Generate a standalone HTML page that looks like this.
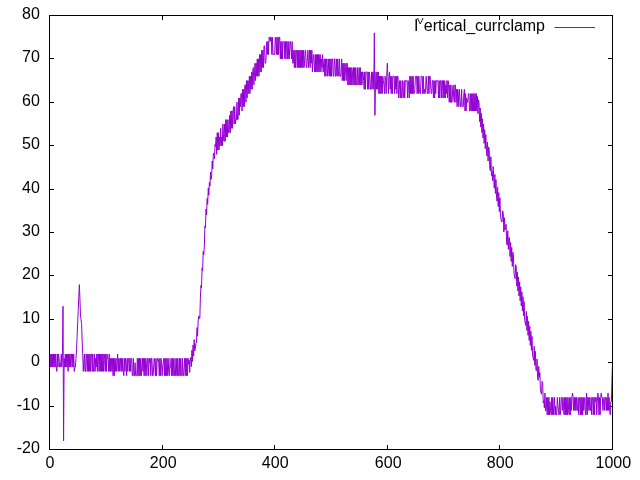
<!DOCTYPE html>
<html><head><meta charset="utf-8"><title>plot</title>
<style>
html,body{margin:0;padding:0;background:#fff;}
svg{display:block;}
text{font-family:"Liberation Sans",Arial,sans-serif;font-size:16px;fill:#000;}
</style></head><body>
<svg width="640" height="480" viewBox="0 0 640 480">
<rect width="640" height="480" fill="#fff"/>
<path d="M49.5 15.5h4.5M612.5 15.5h-4.5M49.5 58.5h4.5M612.5 58.5h-4.5M49.5 102.5h4.5M612.5 102.5h-4.5M49.5 145.5h4.5M612.5 145.5h-4.5M49.5 189.5h4.5M612.5 189.5h-4.5M49.5 232.5h4.5M612.5 232.5h-4.5M49.5 275.5h4.5M612.5 275.5h-4.5M49.5 319.5h4.5M612.5 319.5h-4.5M49.5 362.5h4.5M612.5 362.5h-4.5M49.5 406.5h4.5M612.5 406.5h-4.5M49.5 449.5h4.5M612.5 449.5h-4.5M49.5 449.5v-4.5M49.5 15.5v4.5M162.5 449.5v-4.5M162.5 15.5v4.5M274.5 449.5v-4.5M274.5 15.5v4.5M387.5 449.5v-4.5M387.5 15.5v4.5M499.5 449.5v-4.5M499.5 15.5v4.5M612.5 449.5v-4.5M612.5 15.5v4.5" stroke="#000" stroke-width="1" fill="none"/>
<text x="39.9" y="18.8" text-anchor="end">80</text>
<text x="39.9" y="61.8" text-anchor="end">70</text>
<text x="39.9" y="105.8" text-anchor="end">60</text>
<text x="39.9" y="148.8" text-anchor="end">50</text>
<text x="39.9" y="192.8" text-anchor="end">40</text>
<text x="39.9" y="235.8" text-anchor="end">30</text>
<text x="39.9" y="278.8" text-anchor="end">20</text>
<text x="39.9" y="322.8" text-anchor="end">10</text>
<text x="39.9" y="365.8" text-anchor="end">0</text>
<text x="39.9" y="409.8" text-anchor="end">-10</text>
<text x="39.9" y="452.8" text-anchor="end">-20</text>
<text x="49.9" y="468" text-anchor="middle">0</text>
<text x="163.2" y="468" text-anchor="middle">200</text>
<text x="275.2" y="468" text-anchor="middle">400</text>
<text x="388.2" y="468" text-anchor="middle">600</text>
<text x="500.2" y="468" text-anchor="middle">800</text>
<text x="613.3" y="468" text-anchor="middle">1000</text>
<text x="414" y="30.8">I</text><text x="417" y="24.4" style="font-size:9.8px">V</text><text x="423.8" y="30.8" style="letter-spacing:-0.04px">ertical_currclamp</text>
<path d="M554.5 27.5H595" stroke="#9400d3" stroke-width="1" fill="none"/>
<polyline points="49.50,367.04 50.06,354.02 50.63,367.04 51.19,354.02 51.75,367.04 52.31,354.02 52.88,367.04 53.44,354.02 54.00,367.04 54.57,354.02 55.13,367.04 55.69,354.02 56.26,367.04 56.82,371.38 57.38,354.02 57.95,367.04 58.51,354.02 59.07,358.36 59.63,367.04 60.20,367.04 60.76,362.70 61.32,354.02 61.89,367.04 62.45,354.02 63.01,306.28 63.58,440.82 64.14,358.36 64.70,367.04 65.26,354.02 65.83,367.04 66.39,354.02 66.95,367.04 67.52,354.02 68.08,371.38 68.64,354.02 69.20,367.04 69.77,354.02 70.33,367.04 70.89,354.02 71.46,354.02 72.02,367.04 72.58,354.02 73.15,367.04 73.71,354.02 74.27,371.38 74.84,367.04 75.40,367.04 75.96,358.36 76.52,349.68 77.09,336.66 77.65,323.64 78.21,310.62 78.78,297.60 79.34,284.58 79.90,297.60 80.47,314.96 81.03,319.30 81.59,323.64 82.15,341.00 82.72,354.02 83.28,371.38 83.84,362.70 84.41,354.02 84.97,371.38 85.53,371.38 86.09,354.02 86.66,358.36 87.22,371.38 87.78,354.02 88.35,371.38 88.91,354.02 89.47,371.38 90.04,354.02 90.60,371.38 91.16,354.02 91.72,354.02 92.29,371.38 92.85,354.02 93.41,371.38 93.98,371.38 94.54,354.02 95.10,371.38 95.67,358.36 96.23,367.04 96.79,354.02 97.35,371.38 97.92,354.02 98.48,354.02 99.04,371.38 99.61,354.02 100.17,371.38 100.73,354.02 101.30,371.38 101.86,354.02 102.42,371.38 102.98,354.02 103.55,371.38 104.11,354.02 104.67,358.36 105.24,371.38 105.80,354.02 106.36,371.38 106.93,354.02 107.49,358.36 108.05,358.36 108.62,371.38 109.18,354.02 109.74,371.38 110.30,358.36 110.87,371.38 111.43,358.36 111.99,371.38 112.56,358.36 113.12,375.72 113.68,358.36 114.25,375.72 114.81,358.36 115.37,371.38 115.93,358.36 116.50,371.38 117.06,362.70 117.62,354.02 118.19,371.38 118.75,358.36 119.31,371.38 119.88,358.36 120.44,358.36 121.00,371.38 121.56,358.36 122.13,371.38 122.69,358.36 123.25,371.38 123.82,375.72 124.38,358.36 124.94,371.38 125.50,358.36 126.07,362.70 126.63,375.72 127.19,358.36 127.76,371.38 128.32,358.36 128.88,358.36 129.45,371.38 130.01,358.36 130.57,371.38 131.13,358.36 131.70,358.36 132.26,375.72 132.82,375.72 133.39,358.36 133.95,375.72 134.51,375.72 135.08,362.70 135.64,375.72 136.20,375.72 136.76,375.72 137.33,358.36 137.89,375.72 138.45,358.36 139.02,375.72 139.58,358.36 140.14,375.72 140.71,358.36 141.27,375.72 141.83,367.04 142.39,358.36 142.96,371.38 143.52,358.36 144.08,375.72 144.65,358.36 145.21,375.72 145.77,358.36 146.34,362.70 146.90,375.72 147.46,358.36 148.03,358.36 148.59,375.72 149.15,358.36 149.71,362.70 150.28,358.36 150.84,375.72 151.40,358.36 151.97,358.36 152.53,375.72 153.09,375.72 153.66,367.04 154.22,358.36 154.78,362.70 155.34,375.72 155.91,358.36 156.47,375.72 157.03,362.70 157.60,358.36 158.16,358.36 158.72,362.70 159.28,375.72 159.85,358.36 160.41,375.72 160.97,358.36 161.54,362.70 162.10,375.72 162.66,367.04 163.23,362.70 163.79,358.36 164.35,375.72 164.92,358.36 165.48,375.72 166.04,358.36 166.60,375.72 167.17,358.36 167.73,375.72 168.29,371.38 168.86,358.36 169.42,375.72 169.98,367.04 170.55,367.04 171.11,358.36 171.67,375.72 172.23,358.36 172.80,375.72 173.36,358.36 173.92,375.72 174.49,375.72 175.05,358.36 175.61,375.72 176.18,375.72 176.74,358.36 177.30,375.72 177.86,358.36 178.43,375.72 178.99,375.72 179.55,358.36 180.12,375.72 180.68,358.36 181.24,375.72 181.81,375.72 182.37,358.36 182.93,375.72 183.49,375.72 184.06,367.04 184.62,358.36 185.18,375.72 185.75,358.36 186.31,375.72 186.87,358.36 187.44,375.72 188.00,358.36 188.56,364.27 189.12,360.18 189.69,372.54 190.25,357.93 190.81,357.54 191.38,366.61 191.94,350.11 192.50,361.40 193.06,344.91 193.63,356.14 194.19,339.59 194.75,350.82 195.32,348.16 195.88,343.36 196.44,342.84 197.01,327.60 197.57,336.23 198.13,320.86 198.69,316.04 199.26,318.39 199.82,318.43 200.38,298.19 200.95,285.45 201.51,288.05 202.07,268.09 202.64,270.69 203.20,251.45 203.76,254.78 204.32,246.82 204.89,225.99 205.45,227.73 206.01,209.02 206.58,215.00 207.14,198.41 207.70,204.39 208.27,187.80 208.83,195.14 209.39,182.30 209.96,186.06 210.52,172.02 211.08,179.35 211.64,175.69 212.21,161.01 212.77,168.90 213.33,154.22 213.90,152.87 214.46,158.72 215.02,144.54 215.59,146.49 216.15,137.02 216.71,154.38 217.27,132.68 217.84,150.04 218.40,132.68 218.96,150.04 219.53,137.02 220.09,145.70 220.65,128.34 221.22,145.70 221.78,137.02 222.34,145.70 222.90,124.00 223.47,137.02 224.03,141.36 224.59,124.00 225.16,141.36 225.72,119.66 226.28,137.02 226.84,119.66 227.41,137.02 227.97,119.66 228.53,132.68 229.10,132.68 229.66,115.32 230.22,132.68 230.79,110.98 231.35,128.34 231.91,110.98 232.47,128.34 233.04,110.98 233.60,106.64 234.16,124.00 234.73,106.64 235.29,124.00 235.85,119.66 236.42,119.66 236.98,102.30 237.54,119.66 238.10,119.66 238.67,97.96 239.23,115.32 239.79,97.96 240.36,106.64 240.92,93.62 241.48,93.62 242.05,110.98 242.61,89.28 243.17,106.64 243.74,89.28 244.30,106.64 244.86,84.94 245.42,84.94 245.99,102.30 246.55,80.60 247.11,97.96 247.68,80.60 248.24,80.60 248.80,93.62 249.37,76.26 249.93,93.62 250.49,76.26 251.05,89.28 251.62,71.92 252.18,89.28 252.74,71.92 253.31,67.58 253.87,84.94 254.43,76.26 255.00,63.24 255.56,80.60 256.12,63.24 256.68,76.26 257.25,58.90 257.81,76.26 258.37,58.90 258.94,76.26 259.50,54.56 260.06,71.92 260.62,54.56 261.19,71.92 261.75,50.22 262.31,67.58 262.88,50.22 263.44,67.58 264.00,45.88 264.57,45.88 265.13,63.24 265.69,63.24 266.25,54.56 266.82,41.54 267.38,54.56 267.94,41.54 268.51,54.56 269.07,37.20 269.63,37.20 270.20,41.54 270.76,37.20 271.32,37.20 271.88,54.56 272.45,37.20 273.01,54.56 273.57,54.56 274.14,54.56 274.70,54.56 275.26,37.20 275.83,41.54 276.39,54.56 276.95,37.20 277.51,54.56 278.08,37.20 278.64,54.56 279.20,37.20 279.77,37.20 280.33,58.90 280.89,41.54 281.46,58.90 282.02,41.54 282.58,58.90 283.14,41.54 283.71,41.54 284.27,41.54 284.83,58.90 285.40,41.54 285.96,58.90 286.52,41.54 287.09,41.54 287.65,58.90 288.21,41.54 288.77,58.90 289.34,58.90 289.90,41.54 290.46,41.54 291.03,50.22 291.59,58.90 292.15,41.54 292.72,63.24 293.28,63.24 293.84,50.22 294.40,67.58 294.97,50.22 295.53,67.58 296.09,50.22 296.66,50.22 297.22,67.58 297.78,50.22 298.35,67.58 298.91,50.22 299.47,67.58 300.03,50.22 300.60,67.58 301.16,50.22 301.72,67.58 302.29,50.22 302.85,67.58 303.41,50.22 303.98,67.58 304.54,63.24 305.10,50.22 305.67,50.22 306.23,67.58 306.79,67.58 307.35,58.90 307.92,50.22 308.48,67.58 309.04,63.24 309.61,50.22 310.17,67.58 310.73,50.22 311.30,63.24 311.86,50.22 312.42,71.92 312.98,58.90 313.55,54.56 314.11,63.24 314.67,71.92 315.24,54.56 315.80,71.92 316.36,54.56 316.93,71.92 317.49,54.56 318.05,71.92 318.61,54.56 319.18,71.92 319.74,54.56 320.30,54.56 320.87,71.92 321.43,58.90 321.99,67.58 322.56,54.56 323.12,71.92 323.68,63.24 324.24,58.90 324.81,76.26 325.37,58.90 325.93,76.26 326.50,58.90 327.06,58.90 327.62,76.26 328.19,71.92 328.75,58.90 329.31,76.26 329.87,58.90 330.44,76.26 331.00,58.90 331.56,76.26 332.13,58.90 332.69,58.90 333.25,76.26 333.81,76.26 334.38,58.90 334.94,58.90 335.50,76.26 336.07,76.26 336.63,58.90 337.19,76.26 337.76,58.90 338.32,71.92 338.88,76.26 339.44,58.90 340.01,76.26 340.57,76.26 341.13,71.92 341.70,58.90 342.26,80.60 342.82,63.24 343.39,80.60 343.95,63.24 344.51,80.60 345.07,63.24 345.64,71.92 346.20,80.60 346.76,63.24 347.33,63.24 347.89,84.94 348.45,67.58 349.02,84.94 349.58,67.58 350.14,84.94 350.70,67.58 351.27,84.94 351.83,67.58 352.39,71.92 352.96,84.94 353.52,67.58 354.08,84.94 354.65,67.58 355.21,84.94 355.77,67.58 356.33,84.94 356.90,84.94 357.46,67.58 358.02,84.94 358.59,80.60 359.15,67.58 359.71,84.94 360.28,67.58 360.84,84.94 361.40,71.92 361.96,84.94 362.53,71.92 363.09,71.92 363.65,80.60 364.22,89.28 364.78,71.92 365.34,89.28 365.91,71.92 366.47,71.92 367.03,71.92 367.60,89.28 368.16,71.92 368.72,89.28 369.28,71.92 369.85,76.26 370.41,89.28 370.97,89.28 371.54,71.92 372.10,89.28 372.66,71.92 373.23,71.92 373.79,89.28 374.35,32.86 374.91,115.32 375.48,84.94 376.04,71.92 376.60,89.28 377.17,71.92 377.73,89.28 378.29,71.92 378.86,93.62 379.42,76.26 379.98,93.62 380.54,76.26 381.11,93.62 381.67,76.26 382.23,93.62 382.80,76.26 383.36,80.60 383.92,84.94 384.49,93.62 385.05,76.26 385.61,80.60 386.17,93.62 386.74,76.26 387.30,63.24 387.86,76.26 388.43,93.62 388.99,76.26 389.55,71.92 390.12,89.28 390.68,76.26 391.24,93.62 391.80,76.26 392.37,93.62 392.93,76.26 393.49,76.26 394.06,76.26 394.62,93.62 395.18,76.26 395.75,89.28 396.31,76.26 396.87,93.62 397.43,76.26 398.00,76.26 398.56,97.96 399.12,89.28 399.69,80.60 400.25,97.96 400.81,80.60 401.38,97.96 401.94,93.62 402.50,80.60 403.06,97.96 403.63,93.62 404.19,80.60 404.75,97.96 405.32,80.60 405.88,80.60 406.44,80.60 407.00,80.60 407.57,97.96 408.13,80.60 408.69,84.94 409.26,97.96 409.82,76.26 410.38,93.62 410.95,76.26 411.51,93.62 412.07,76.26 412.63,93.62 413.20,76.26 413.76,93.62 414.32,93.62 414.89,89.28 415.45,76.26 416.01,76.26 416.58,76.26 417.14,93.62 417.70,76.26 418.26,93.62 418.83,76.26 419.39,89.28 419.95,93.62 420.52,93.62 421.08,76.26 421.64,76.26 422.21,76.26 422.77,93.62 423.33,76.26 423.89,93.62 424.46,89.28 425.02,93.62 425.58,89.28 426.15,76.26 426.71,84.94 427.27,93.62 427.84,93.62 428.40,76.26 428.96,93.62 429.52,76.26 430.09,76.26 430.65,84.94 431.21,93.62 431.78,93.62 432.34,80.60 432.90,80.60 433.47,97.96 434.03,80.60 434.59,97.96 435.15,80.60 435.72,93.62 436.28,80.60 436.84,80.60 437.41,80.60 437.97,80.60 438.53,97.96 439.10,80.60 439.66,97.96 440.22,80.60 440.79,80.60 441.35,97.96 441.91,80.60 442.47,80.60 443.04,97.96 443.60,80.60 444.16,97.96 444.73,80.60 445.29,97.96 445.85,84.94 446.42,93.62 446.98,80.60 447.54,97.96 448.10,80.60 448.67,84.94 449.23,102.30 449.79,84.94 450.36,102.30 450.92,84.94 451.48,102.30 452.05,102.30 452.61,89.28 453.17,84.94 453.73,97.96 454.30,102.30 454.86,84.94 455.42,84.94 455.99,102.30 456.55,89.28 457.11,106.64 457.68,89.28 458.24,93.62 458.80,106.64 459.36,89.28 459.93,97.96 460.49,106.64 461.05,106.64 461.62,89.28 462.18,106.64 462.74,106.64 463.31,106.64 463.87,93.62 464.43,89.28 464.99,110.98 465.56,93.62 466.12,110.98 466.68,97.96 467.25,102.30 467.81,102.30 468.37,93.62 468.94,93.62 469.50,110.98 470.06,110.98 470.62,93.62 471.19,110.98 471.75,93.62 472.31,110.98 472.88,93.62 473.44,110.98 474.00,93.62 474.56,110.98 475.13,93.62 475.69,110.98 476.25,93.62 476.82,110.98 477.38,96.44 477.94,113.58 478.51,99.80 479.07,102.51 479.63,121.71 480.19,107.92 480.76,127.12 481.32,113.34 481.88,132.54 482.45,118.76 483.01,137.96 483.57,124.17 484.14,143.37 484.70,129.59 485.26,148.66 485.82,134.63 486.39,148.42 486.95,156.03 487.51,141.99 488.08,160.93 488.64,146.95 489.20,149.35 489.77,168.30 490.33,170.75 490.89,156.71 491.45,175.66 492.02,171.13 492.58,180.57 493.14,166.53 493.71,178.03 494.27,188.23 494.83,174.34 495.40,193.44 495.96,179.55 496.52,197.18 497.08,201.25 497.65,187.36 498.21,206.46 498.77,192.57 499.34,211.67 499.90,197.78 500.46,215.08 501.03,219.48 501.59,222.08 502.15,221.43 502.71,210.80 503.28,213.81 503.84,232.07 504.40,217.74 504.97,230.01 505.53,228.35 506.09,224.25 506.66,242.92 507.22,245.09 507.78,230.76 508.35,249.43 508.91,237.92 509.47,237.57 510.03,256.52 510.60,242.49 511.16,261.45 511.72,247.42 512.29,266.38 512.85,252.35 513.41,254.81 513.98,273.09 514.54,276.23 515.10,278.70 515.66,264.67 516.23,267.13 516.79,286.09 517.35,272.06 517.92,291.01 518.48,276.99 519.04,295.94 519.61,281.91 520.17,300.87 520.73,286.84 521.29,305.79 521.86,291.77 522.42,310.72 522.98,296.69 523.55,315.65 524.11,301.62 524.67,320.58 525.24,323.04 525.80,325.50 526.36,311.48 526.92,330.43 527.49,316.40 528.05,335.36 528.61,321.37 529.18,340.36 529.74,326.36 530.30,345.35 530.87,331.36 531.43,350.35 531.99,336.36 532.55,355.35 533.12,357.85 533.68,360.35 534.24,346.36 534.81,365.35 535.37,351.36 535.93,370.35 536.50,370.60 537.06,358.92 537.62,377.85 538.18,380.34 538.75,366.35 539.31,377.23 539.87,372.73 540.44,390.34 541.00,392.84 541.56,394.26 542.12,381.35 542.69,383.85 543.25,402.84 543.81,400.80 544.38,407.84 544.94,392.97 545.50,411.09 546.07,409.28 546.63,397.42 547.19,414.78 547.75,397.42 548.32,414.78 548.88,397.42 549.44,414.78 550.01,401.76 550.57,410.44 551.13,414.78 551.70,397.42 552.26,414.78 552.82,397.42 553.38,414.78 553.95,406.10 554.51,397.42 555.07,414.78 555.64,406.10 556.20,414.78 556.76,414.78 557.33,397.42 557.89,406.10 558.45,410.44 559.01,414.78 559.58,397.42 560.14,414.78 560.70,410.44 561.27,397.42 561.83,397.42 562.39,410.44 562.96,397.42 563.52,406.10 564.08,414.78 564.64,397.42 565.21,414.78 565.77,397.42 566.33,414.78 566.90,397.42 567.46,414.78 568.02,397.42 568.59,410.44 569.15,414.78 569.71,397.42 570.27,414.78 570.84,397.42 571.40,410.44 571.96,397.42 572.53,393.08 573.09,397.42 573.65,410.44 574.22,397.42 574.78,410.44 575.34,397.42 575.90,410.44 576.47,397.42 577.03,410.44 577.59,410.44 578.16,397.42 578.72,414.78 579.28,401.76 579.85,397.42 580.41,414.78 580.97,397.42 581.53,414.78 582.10,397.42 582.66,414.78 583.22,397.42 583.79,410.44 584.35,401.76 584.91,397.42 585.48,414.78 586.04,414.78 586.60,393.08 587.16,414.78 587.73,397.42 588.29,397.42 588.85,410.44 589.42,397.42 589.98,410.44 590.54,410.44 591.11,397.42 591.67,414.78 592.23,397.42 592.79,397.42 593.36,414.78 593.92,397.42 594.48,414.78 595.05,397.42 595.61,401.76 596.17,397.42 596.74,414.78 597.30,401.76 597.86,393.08 598.42,397.42 598.99,414.78 599.55,397.42 600.11,414.78 600.68,397.42 601.24,393.08 601.80,397.42 602.37,397.42 602.93,410.44 603.49,401.76 604.05,397.42 604.62,410.44 605.18,397.42 605.74,397.42 606.31,410.44 606.87,397.42 607.43,410.44 608.00,393.08 608.56,410.44 609.12,397.42 609.68,410.44 610.25,414.78 610.81,401.76 611.37,401.76 611.94,380.06 612.50,362.70" stroke="#9400d3" stroke-width="1" fill="none" stroke-linejoin="miter" stroke-miterlimit="4"/>
<rect x="49.5" y="15.5" width="563.0" height="434.0" stroke="#000" stroke-width="1" fill="none"/>
</svg>
</body></html>
